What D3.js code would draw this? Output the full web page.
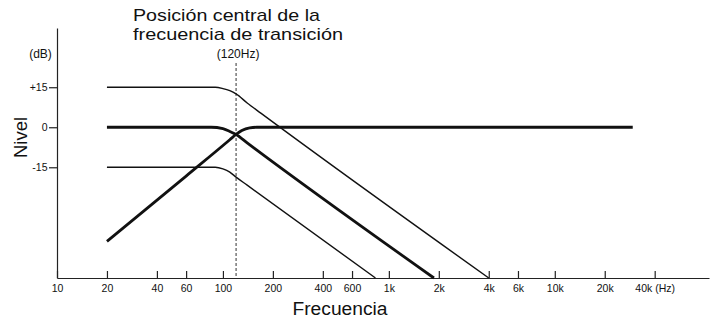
<!DOCTYPE html>
<html>
<head>
<meta charset="utf-8">
<script src="https://cdn.jsdelivr.net/npm/d3@7"></script>
<style>
	body { margin: 0; background: #fff; }
	text { font-family: "Liberation Sans", Arial, Helvetica, sans-serif; fill: #111; }
	.axis path, .axis line { stroke: #222; stroke-width: 1.2; }
</style>
</head>
<body>
<div id="chart"></div>
<script>
// tick values / labels
var xTicks = [10, 20, 40, 60, 100, 200, 400, 600, 1000, 2000, 4000, 6000, 10000, 20000, 40000];
var xTickLabels = ['10', '20', '40', '60', '100', '200', '400', '600', '1k', '2k', '4k', '6k', '10k', '20k', '40k (Hz)'];
var yTicks = [15, 0, -15];
var yTickLabels = ['+15', '0', '-15'];
var crossoverHz = 120;

// [Hz, dB]
var boostLow = [[20, 15], [90, 15], [100, 14.5], [110, 13.7], [120, 12.5], [140, 9.1], [170, 5.2], [4000, -56.5]];
var flatLow = [[20, 0], [85, 0], [100, -0.5], [110, -1.6], [120, -2.7], [140, -5.84], [1870, -56.5]];
var cutLow = [[20, -15], [90, -15], [100, -15.6], [110, -16.8], [120, -18.7], [140, -21.7], [830, -56.5]];
var highPass = [[20, -42.8], [60, -18.3], [110, -4.7], [120, -2.7], [130, -1.2], [145, -0.2], [160, 0], [1000, 0], [29500, 0]];

var svg = d3.select('#chart').append('svg').attr('width', 719).attr('height', 327);

var xScale = d3.scaleLog()
	.domain([10, 85000])
	.range([57, 709]);

var yScale = d3.scaleLinear()
	.domain([-56.5, 37.2])
	.range([278, 28]);

var xAxis = d3.axisBottom(xScale)
	.tickValues(xTicks)
	.tickFormat(function(d, i) { return xTickLabels[i]; })
	.tickSizeInner(-7)
	.tickSizeOuter(0)
	.tickPadding(6.5);

var yAxis = d3.axisLeft(yScale)
	.tickValues(yTicks)
	.tickFormat(function(d, i) { return yTickLabels[i]; })
	.tickSizeInner(8)
	.tickSizeOuter(0)
	.tickPadding(1.5);

var xAxisG = svg.append('g')
	.attr('class', 'axis')
	.attr('transform', 'translate(0,278)')
	.call(xAxis);
xAxisG.selectAll('text').style('font-size', '10.5px').attr('fill', '#111');

var yAxisG = svg.append('g')
	.attr('class', 'axis')
	.attr('transform', 'translate(57,0)')
	.call(yAxis);
yAxisG.selectAll('text').style('font-size', '10.5px').attr('fill', '#111');

// crossover marker
svg.append('line')
	.attr('x1', xScale(crossoverHz)).attr('x2', xScale(crossoverHz))
	.attr('y1', 63).attr('y2', 278)
	.attr('stroke', '#333')
	.attr('stroke-width', 1)
	.attr('stroke-dasharray', '3,2');

var line = d3.line()
	.x(function(d) { return xScale(d[0]); })
	.y(function(d) { return yScale(d[1]); })
	.curve(d3.curveMonotoneX);

var series = [
	{ data: boostLow, width: 1.4 },
	{ data: flatLow, width: 2.8 },
	{ data: cutLow, width: 1.4 },
	{ data: highPass, width: 2.8 }
];

series.forEach(function(s) {
	svg.append('path')
		.attr('d', line(s.data))
		.attr('fill', 'none')
		.attr('stroke', '#111')
		.attr('stroke-width', s.width)
		.attr('stroke-linejoin', 'round');
});

// texts
svg.append('text').attr('x', 133).attr('y', 21).attr('textLength', 187).attr('lengthAdjust', 'spacingAndGlyphs')
	.style('font-size', '17px').text('Posición central de la');
svg.append('text').attr('x', 133).attr('y', 39.5).attr('textLength', 210).attr('lengthAdjust', 'spacingAndGlyphs')
	.style('font-size', '17px').text('frecuencia de transición');

svg.append('text').attr('x', 40.5).attr('y', 58).attr('text-anchor', 'middle').style('font-size', '12px').text('(dB)');
svg.append('text').attr('x', xScale(crossoverHz) + 2).attr('y', 58).attr('text-anchor', 'middle').style('font-size', '12px').text('(120Hz)');

svg.append('text')
	.attr('transform', 'translate(27,137.5) rotate(-90)')
	.attr('text-anchor', 'middle')
	.style('font-size', '18.5px')
	.text('Nivel');

svg.append('text')
	.attr('x', 340).attr('y', 315)
	.attr('text-anchor', 'middle')
	.attr('textLength', 95).attr('lengthAdjust', 'spacingAndGlyphs')
	.style('font-size', '17.5px')
	.text('Frecuencia');
</script>
</body>
</html>
